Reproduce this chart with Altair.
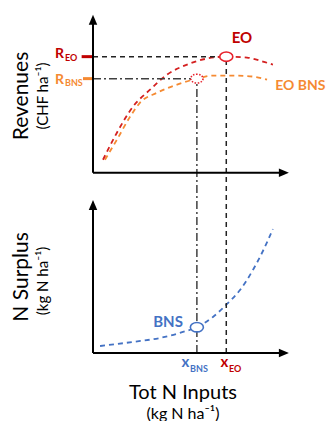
import altair as alt
import pandas as pd

# ---- data (conceptual diagram) ----
eo_x = [5.1, 12.2, 20.4, 29.1, 37.8, 48.0, 58.2, 67.9, 78.6, 86.7, 91.8]
eo_rev = [8.2, 25.3, 41.8, 52.5, 62.0, 68.4, 72.2, 73.4, 72.8, 70.3, 68.4]
bns_x = [6.1, 12.2, 18.9, 24.0, 32.7, 42.9, 53.1, 61.2, 71.4, 81.6, 88.8]
bns_rev = [8.2, 20.9, 35.4, 44.3, 50.6, 55.7, 59.5, 61.4, 61.4, 60.8, 58.9]
surplus_x = [3.6, 20.4, 34.2, 45.9, 53.1, 61.2, 67.9, 75.0, 81.6, 86.7, 91.8]
surplus_y = [4.4, 7.0, 9.5, 13.3, 16.4, 22.8, 30.4, 39.8, 52.5, 64.5, 78.4]
x_eo, x_bns = 68, 53
r_eo, r_bns = 73.4, 59.5
surplus_at_bns = 16.3

# ---- layout constants ----
OFF = 114          # vertical offset of the revenue panel
FONT = "Lato"
RED = "#C00000"
RED2 = "#D42020"
ORANGE = "#F58A32"
BLUE = "#4472C4"
GRAY = "#404040"

X = alt.Scale(domain=[0, 100], nice=False, zero=False)
Y = alt.Scale(domain=[0, 215], nice=False, zero=False)


def xy(df):
    return dict(x=alt.X("x:Q", scale=X, axis=None), y=alt.Y("y:Q", scale=Y, axis=None))


def curve(xs, ys, color, off):
    df = pd.DataFrame({"x": xs, "y": [v + off for v in ys]})
    return alt.Chart(df).mark_line(color=color, strokeDash=[5, 4], strokeWidth=1.8,
                                   interpolate="monotone").encode(**xy(df))


def hrule(x0, x1, y, color, dash=None, width=1.5):
    df = pd.DataFrame({"x": [x0], "x2": [x1], "y": [y]})
    kw = dict(color=color, strokeWidth=width)
    if dash:
        kw["strokeDash"] = dash
    return alt.Chart(df).mark_rule(**kw).encode(
        x=alt.X("x:Q", scale=X, axis=None), x2="x2:Q", y=alt.Y("y:Q", scale=Y, axis=None))


def vrule(x, y0, y1, color, dash=None, width=1.5):
    df = pd.DataFrame({"x": [x], "y": [y0], "y2": [y1]})
    kw = dict(color=color, strokeWidth=width)
    if dash:
        kw["strokeDash"] = dash
    return alt.Chart(df).mark_rule(**kw).encode(
        x=alt.X("x:Q", scale=X, axis=None), y=alt.Y("y:Q", scale=Y, axis=None), y2="y2:Q")


ELLIPSE = "M-1,0 A1,0.72 0 1,0 1,0 A1,0.72 0 1,0 -1,0 Z"


def marker(x, y, color, dash=None, size=170):
    df = pd.DataFrame({"x": [x], "y": [y]})
    kw = dict(shape=ELLIPSE, size=size, fill="white", fillOpacity=1, stroke=color,
              strokeWidth=1.6, opacity=1)
    if dash:
        kw["strokeDash"] = dash
    return alt.Chart(df).mark_point(**kw).encode(**xy(df))


def arrow(x, y, path):
    df = pd.DataFrame({"x": [x], "y": [y]})
    return alt.Chart(df).mark_point(shape=path, size=100, filled=True, color="black",
                                    opacity=1).encode(**xy(df))


def label(text, x, y, size, color="black", bold=False, align="center",
          baseline="middle", angle=0, dy=0):
    df = pd.DataFrame({"x": [x], "y": [y]})
    kw = dict(text=text, fontSize=size, color=color, font=FONT, align=align,
              baseline=baseline, dy=dy)
    if bold:
        kw["fontWeight"] = "bold"
    if angle:
        kw["angle"] = angle
    return alt.Chart(df).mark_text(**kw).encode(**xy(df))


UP = "M0,-1 L0.85,1 L-0.85,1 Z"
RIGHT = "M1,0 L-1,-0.85 L-1,0.85 Z"

layers = [
    # curves
    curve(bns_x, bns_rev, ORANGE, OFF),
    curve(eo_x, eo_rev, RED2, OFF),
    curve(surplus_x, surplus_y, BLUE, 0),
    # guide lines
    hrule(0, x_eo, r_eo + OFF, "#222222", dash=[5, 4]),
    hrule(0, x_bns, r_bns + OFF, GRAY, dash=[8, 3, 2, 3]),
    vrule(x_eo, 0, r_eo + OFF, "#222222", dash=[5, 4]),
    vrule(x_bns, 0, r_bns + OFF, GRAY, dash=[8, 3, 2, 3]),
    # small colored ticks on revenue axis
    hrule(-5.8, 0, r_eo + OFF, RED, width=3),
    hrule(-5.1, 0, r_bns + OFF, ORANGE, width=3),
    # axes
    vrule(0, OFF, OFF + 97, "black", width=2),
    hrule(0, 97.5, OFF, "black", width=2),
    vrule(0, 0, 94, "black", width=2),
    hrule(0, 97.5, 0, "black", width=2),
    arrow(0, OFF + 96.8, UP),
    arrow(97.4, OFF, RIGHT),
    arrow(0, 93.6, UP),
    arrow(97.4, 0, RIGHT),
    # markers
    marker(x_eo, r_eo + OFF, "#E8202A"),
    marker(x_bns, r_bns + OFF, "#E8202A", dash=[1.5, 1.5], size=150),
    marker(x_bns, surplus_at_bns, BLUE),
    # labels
    label("EO", 76, 85.4 + OFF, 15, RED, bold=True),
    label("EO BNS", 118.6, 55 + OFF, 14, ORANGE, bold=True, align="right"),
    label("R", -14.8, r_eo + OFF, 14, RED, bold=True, align="right", baseline="alphabetic", dy=1),
    label("EO", -14.3, r_eo + OFF, 9, RED, bold=True, align="left", baseline="alphabetic", dy=4),
    label("R", -14.8, r_bns + OFF, 14, ORANGE, bold=True, align="right", baseline="alphabetic", dy=5),
    label("BNS", -14.3, r_bns + OFF, 9, ORANGE, bold=True, align="left", baseline="alphabetic", dy=7),
    label("x", 49.2, 0, 15, BLUE, bold=True, align="right", baseline="alphabetic", dy=14),
    label("BNS", 49.5, 0, 9, BLUE, bold=True, align="left", baseline="alphabetic", dy=19),
    label("x", 69.1, 0, 15, RED, bold=True, align="right", baseline="alphabetic", dy=14),
    label("EO", 69.4, 0, 9, RED, bold=True, align="left", baseline="alphabetic", dy=19),
    label("BNS", 38.3, 19.6, 15, BLUE, bold=True),
    # axis titles
    label("Revenues", -36.3, 162.5, 21, angle=270),
    label("(CHF ha\u207b\u00b9)", -25.3, 162.5, 15, angle=270),
    label("N Surplus", -36.3, 48.1, 21, angle=270),
    label("(kg N ha\u207b\u00b9)", -25.3, 45.5, 15, angle=270),
    label("Tot N Inputs", 45.9, -25.3, 20),
    label("(kg N ha\u207b\u00b9)", 45.9, -38.3, 16),
]

chart = alt.layer(*layers).properties(
    width=196, height=340,
    autosize=alt.AutoSizeParams(type="none"),
    padding={"left": 85, "top": 5, "right": 38, "bottom": 68},
    background="white",
).configure_view(stroke=None)

chart.save("out.html", embed_options={"renderer": "svg", "actions": False})
